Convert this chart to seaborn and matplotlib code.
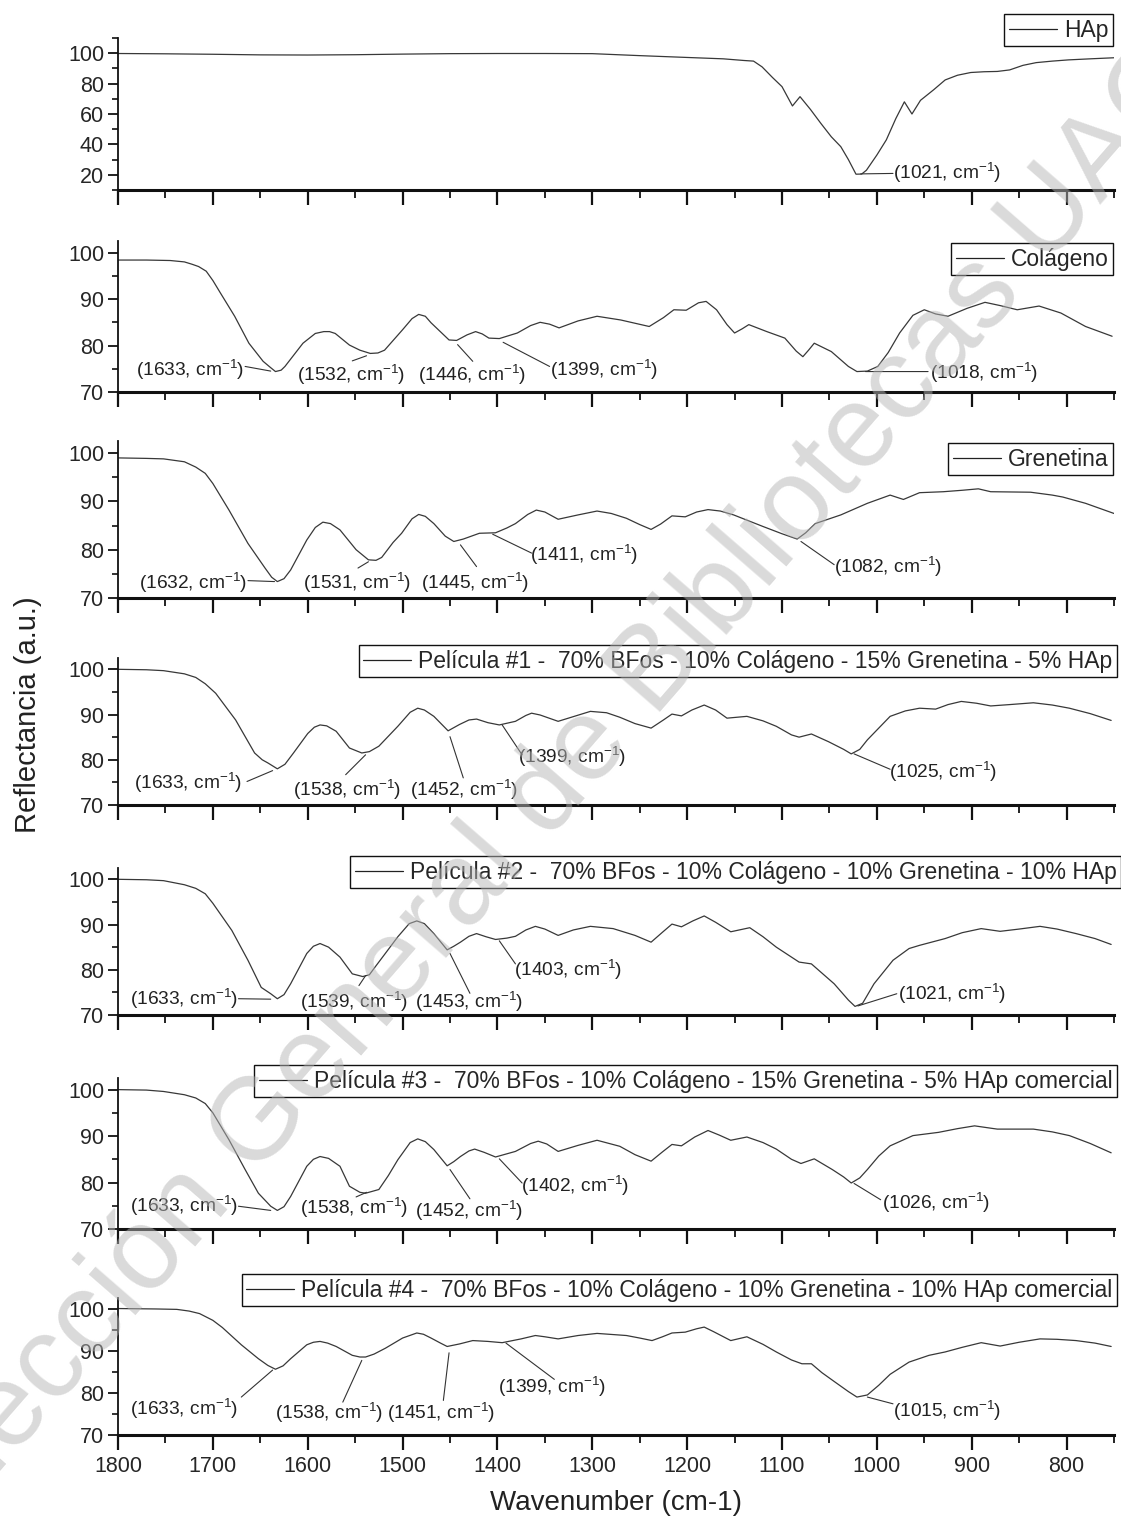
import numpy as np
import pandas as pd
import matplotlib
matplotlib.use("Agg")
import matplotlib.pyplot as plt
import seaborn as sns
from matplotlib.ticker import MultipleLocator

# ---------------- data ----------------
series_names = [
    "HAp",
    "Colágeno",
    "Grenetina",
    "Película #1 -  70% BFos - 10% Colágeno - 15% Grenetina - 5% HAp",
    "Película #2 -  70% BFos - 10% Colágeno - 10% Grenetina - 10% HAp",
    "Película #3 -  70% BFos - 10% Colágeno - 15% Grenetina - 5% HAp comercial",
    "Película #4 -  70% BFos - 10% Colágeno - 10% Grenetina - 10% HAp comercial",
]

hap_wn = [1800, 1750, 1700, 1650, 1600, 1550, 1500, 1450, 1400, 1350, 1300, 1250, 1200, 1162,
          1140, 1130, 1121, 1110, 1100, 1089, 1081, 1070, 1059, 1048, 1038, 1030, 1022, 1016,
          1011, 1000, 990, 980, 971, 963, 954, 940, 928, 915, 901, 887, 873, 860, 846, 832,
          815, 798, 775, 750]
hap_val = [99.8, 99.6, 99.3, 98.9, 98.8, 99.0, 99.4, 99.7, 99.8, 99.8, 99.7, 98.4, 97.2, 96.3,
           95.2, 94.8, 91, 84, 78, 65.3, 71.4, 63, 53.8, 45, 38.5, 30, 20.4, 20.5,
           23, 33, 43, 57, 68, 60, 69, 76, 82.4, 85.5, 87.3, 87.8, 88, 89, 92, 93.8,
           94.8, 95.6, 96.3, 97]

col_wn = [1800, 1770, 1745, 1730, 1722, 1715, 1707, 1700, 1692, 1677, 1662, 1647, 1640, 1634,
          1628, 1624, 1605, 1592, 1583, 1577, 1571, 1556, 1545, 1534, 1526, 1519, 1500, 1490,
          1483, 1476, 1470, 1451, 1443, 1432, 1423, 1416, 1409, 1398, 1379, 1365, 1355, 1345,
          1335, 1315, 1295, 1270, 1240, 1225, 1214, 1201, 1188, 1180, 1169, 1158, 1150, 1142,
          1135, 1116, 1097, 1085, 1078, 1072, 1066, 1048, 1030, 1021, 1010, 999, 988, 976,
          962, 950, 938, 925, 905, 886, 870, 852, 829, 806, 780, 752]
col_val = [98.4, 98.4, 98.3, 98.0, 97.5, 97.0, 96.0, 94.0, 91.3, 86.3, 80.5, 76.6, 75.4, 74.4,
           74.7, 75.5, 80.5, 82.6, 83.0, 83.0, 82.6, 80.1, 79.0, 78.3, 78.4, 79.0, 83.4, 85.8,
           86.7, 86.3, 84.9, 81.2, 81.1, 82.3, 83.0, 82.5, 81.6, 81.5, 82.7, 84.3, 85.0, 84.6,
           83.8, 85.3, 86.3, 85.5, 84.1, 86.0, 87.7, 87.6, 89.2, 89.5, 87.7, 84.5, 82.7, 83.6,
           84.5, 83.0, 81.6, 78.8, 77.6, 79.0, 80.5, 78.7, 75.5, 74.4, 74.5, 75.5, 78.5, 82.7,
           86.5, 87.7, 86.8, 86.3, 88.0, 89.3, 88.6, 87.7, 88.5, 87.0, 84.1, 82.0]

gre_wn = [1800, 1770, 1752, 1730, 1718, 1708, 1700, 1683, 1663, 1645, 1638, 1632, 1625, 1618,
          1601, 1592, 1584, 1576, 1566, 1549, 1536, 1528, 1522, 1510, 1501, 1490, 1483, 1476,
          1467, 1455, 1446, 1436, 1419, 1402, 1390, 1381, 1368, 1359, 1350, 1336, 1315, 1295,
          1280, 1264, 1250, 1238, 1228, 1216, 1202, 1190, 1178, 1165, 1151, 1120, 1100, 1084,
          1075, 1065, 1038, 1010, 986, 972, 955, 930, 910, 893, 880, 838, 815, 804, 780, 750]
gre_val = [99.0, 98.9, 98.8, 98.2, 97.1, 95.8, 93.7, 88.2, 81.3, 76.2, 74.3, 73.4, 74.0, 75.8,
           82.0, 84.6, 85.7, 85.4, 84.1, 80.0, 77.9, 77.8, 78.4, 81.5, 83.4, 86.4, 87.3, 86.9,
           85.4, 82.8, 81.7, 82.2, 83.4, 83.5, 84.5, 85.4, 87.3, 88.2, 87.8, 86.3, 87.2, 88.0,
           87.5, 86.5, 85.2, 84.2, 85.3, 87.0, 86.8, 87.8, 88.3, 88.0, 87.2, 84.8, 83.3, 82.2,
           83.5, 85.4, 87.2, 89.6, 91.3, 90.4, 91.8, 92.0, 92.3, 92.6, 92.0, 91.9, 91.3, 90.9,
           89.6, 87.5]

p1_wn = [1800, 1770, 1752, 1730, 1718, 1708, 1697, 1676, 1656, 1648, 1642, 1632, 1624, 1615,
         1600, 1593, 1587, 1580, 1570, 1556, 1543, 1535, 1525, 1505, 1492, 1484, 1477, 1467,
         1452, 1440, 1430, 1422, 1410, 1398, 1381, 1370, 1364, 1355, 1336, 1302, 1285, 1271,
         1255, 1238, 1225, 1216, 1206, 1195, 1182, 1170, 1158, 1137, 1120, 1106, 1090, 1082,
         1069, 1051, 1035, 1027, 1018, 1010, 998, 986, 970, 955, 938, 925, 911, 895, 880,
         860, 835, 815, 797, 775, 753]
p1_val = [100, 99.9, 99.7, 99.0, 98.2, 96.8, 94.7, 88.8, 81.5, 80.0, 79.3, 78.0, 79.0, 81.5,
          85.8, 87.2, 87.7, 87.5, 86.3, 82.6, 81.5, 81.8, 83.0, 87.4, 90.5, 91.4, 91.0, 89.6,
          86.4, 87.8, 88.8, 89.0, 88.2, 87.7, 88.5, 89.8, 90.3, 89.9, 88.5, 90.7, 90.4, 89.4,
          88.0, 87.0, 88.8, 90.1, 89.7, 91.0, 92.1, 91.0, 89.2, 89.6, 88.6, 87.4, 85.5, 85.0,
          85.7, 84.0, 82.3, 81.3, 82.3, 84.4, 87.0, 89.6, 90.8, 91.4, 91.2, 92.2, 92.9, 92.5, 91.9,
          92.2, 92.6, 92.1, 91.4, 90.2, 88.7]

p2_wn = [1800, 1770, 1752, 1730, 1718, 1708, 1700, 1680, 1663, 1649, 1639, 1632, 1625, 1618,
         1601, 1594, 1587, 1578, 1566, 1553, 1542, 1535, 1529, 1515, 1505, 1493, 1485, 1477,
         1467, 1453, 1446, 1439, 1430, 1422, 1412, 1402, 1390, 1381, 1370, 1360, 1350, 1336,
         1320, 1302, 1278, 1255, 1238, 1226, 1216, 1206, 1194, 1182, 1170, 1154, 1134, 1120,
         1106, 1082, 1069, 1045, 1030, 1023, 1015, 1003, 983, 966, 955, 928, 910, 890, 870,
         850, 828, 810, 790, 770, 753]
p2_val = [100, 99.9, 99.7, 98.8, 98.0, 96.8, 94.7, 88.7, 82.1, 76.1, 74.7, 73.6, 74.5, 76.9,
          83.6, 85.2, 85.8, 85.0, 82.8, 79.1, 78.5, 78.9, 80.6, 84.5, 87.3, 90.2, 90.8, 90.2,
          88.0, 84.4, 85.2, 86.1, 87.4, 88.0, 87.3, 86.7, 87.0, 87.4, 88.8, 89.6, 89.0, 87.6,
          88.8, 89.6, 89.1, 87.6, 86.1, 88.3, 90.1, 89.5, 90.8, 91.9, 90.5, 88.4, 89.3, 87.3,
          85.0, 81.7, 81.3, 76.9, 73.3, 71.9, 72.6, 76.9, 82.1, 84.7, 85.4, 86.9, 88.2, 89.1, 88.5,
          89.0, 89.6, 89.0, 88.0, 86.9, 85.6]

p3_wn = [1800, 1770, 1752, 1730, 1718, 1708, 1700, 1683, 1666, 1652, 1639, 1632, 1625, 1618,
         1601, 1594, 1587, 1578, 1566, 1556, 1545, 1539, 1525, 1515, 1505, 1492, 1484, 1476,
         1467, 1453, 1446, 1439, 1430, 1424, 1414, 1402, 1381, 1365, 1357, 1348, 1336, 1315,
         1295, 1271, 1255, 1238, 1226, 1216, 1206, 1192, 1178, 1166, 1154, 1137, 1120, 1106,
         1090, 1080, 1066, 1047, 1035, 1027, 1018, 1010, 998, 986, 962, 935, 915, 897, 880,
         873, 835, 815, 797, 775, 753]
p3_val = [100, 99.9, 99.6, 98.9, 98.2, 97.0, 95.0, 89.2, 82.8, 77.7, 74.9, 74.0, 74.8, 77.0,
          83.5, 85.0, 85.6, 85.2, 83.5, 79.2, 77.9, 77.7, 78.5, 81.5, 84.9, 88.6, 89.4, 88.8,
          87.1, 83.6, 84.5, 85.6, 86.8, 87.2, 86.5, 85.5, 86.7, 88.4, 88.9, 88.3, 86.7, 88.0,
          89.1, 87.8, 86.0, 84.6, 86.6, 88.2, 87.9, 89.8, 91.2, 90.2, 89.1, 89.8, 88.6, 87.2,
          85.0, 84.1, 85.1, 82.8, 81.2, 79.9, 81.0, 82.8, 85.7, 87.9, 90.1, 90.8, 91.6, 92.2, 91.7,
          91.5, 91.5, 90.9, 90.1, 88.4, 86.4]

p4_wn = [1800, 1760, 1738, 1725, 1714, 1700, 1690, 1670, 1652, 1642, 1634, 1626, 1618, 1601,
         1594, 1587, 1579, 1570, 1553, 1545, 1539, 1530, 1518, 1500, 1485, 1478, 1470, 1460,
         1453, 1440, 1426, 1410, 1395, 1375, 1360, 1350, 1336, 1315, 1295, 1264, 1250, 1237,
         1226, 1216, 1202, 1190, 1182, 1172, 1154, 1137, 1120, 1106, 1090, 1079, 1069, 1058,
         1045, 1030, 1021, 1010, 998, 986, 966, 945, 928, 910, 890, 870, 850, 828, 810, 790,
         770, 753]
p4_val = [100, 99.9, 99.8, 99.4, 98.8, 97.2, 95.5, 91.4, 88.1, 86.5, 85.6, 86.4, 88.1, 91.4,
          92.0, 92.2, 91.8, 91.0, 88.9, 88.5, 88.5, 89.2, 90.6, 93.0, 94.2, 93.9, 93.0, 91.8,
          91.0, 91.6, 92.4, 92.2, 91.9, 92.8, 93.6, 93.3, 92.8, 93.6, 94.1, 93.6, 93.0, 92.4,
          93.3, 94.2, 94.4, 95.2, 95.6, 94.5, 92.4, 93.3, 91.5, 89.7, 87.8, 86.9, 86.9, 84.8,
          82.7, 80.3, 79.0, 79.5, 81.8, 84.4, 87.3, 88.9, 89.7, 90.8, 91.9, 91.1, 92.0, 92.8, 92.7,
          92.4, 91.8, 91.0]

# annotations: (peak label, text x, text y, leader start x, start y, leader end x, end y)
hap_notes = [(1021, 926, 20.9, 983, 20.9, 1017, 20.6)]
col_notes = [(1633, 1724, 74.8, 1666, 75.5, 1639, 74.5),
             (1532, 1554, 73.7, 1553, 76.7, 1538, 77.8),
             (1446, 1427, 73.7, 1426, 76.6, 1442, 80.2),
             (1399, 1288, 74.8, 1345, 75.5, 1394, 80.7),
             (1018, 887, 74.2, 946, 74.4, 1012, 74.4)]
gre_notes = [(1632, 1721, 73.1, 1663, 73.6, 1635, 73.4),
             (1531, 1548, 73.1, 1547, 76.2, 1536, 77.5),
             (1445, 1423, 73.1, 1422, 76.5, 1439, 81.0),
             (1411, 1309, 78.9, 1364, 79.3, 1405, 83.2),
             (1082, 988, 76.5, 1045, 76.9, 1080, 81.7)]
p1_notes = [(1633, 1726, 74.9, 1664, 75.2, 1637, 77.6),
            (1538, 1558, 73.4, 1560, 76.7, 1539, 81.1),
            (1452, 1435, 73.4, 1436, 76.0, 1450, 85.1),
            (1399, 1321, 80.7, 1374, 81.1, 1395, 87.7),
            (1025, 930, 77.4, 986, 77.9, 1024, 81.3)]
p2_notes = [(1633, 1730, 73.6, 1673, 73.6, 1639, 73.5),
            (1539, 1551, 72.8, 1546, 76.5, 1539, 78.7),
            (1453, 1430, 72.8, 1429, 74.8, 1450, 83.6),
            (1403, 1325, 79.9, 1381, 81.3, 1398, 86.4),
            (1021, 921, 74.7, 979, 74.7, 1020, 72.0)]
p3_notes = [(1633, 1730, 74.9, 1673, 74.9, 1639, 74.0),
            (1538, 1551, 74.5, 1549, 76.9, 1538, 77.9),
            (1452, 1430, 73.8, 1429, 76.5, 1450, 82.8),
            (1402, 1318, 79.3, 1374, 79.9, 1398, 85.1),
            (1026, 938, 75.6, 996, 76.3, 1024, 79.8)]
p4_notes = [(1633, 1730, 76.2, 1670, 79.0, 1637, 85.4),
            (1538, 1577, 75.3, 1563, 77.8, 1543, 87.7),
            (1451, 1459, 75.3, 1457, 78.2, 1451, 89.5),
            (1399, 1342, 81.5, 1340, 83.2, 1391, 91.8),
            (1015, 926, 75.8, 983, 77.4, 1010, 79.0)]

x_ticks = [1800, 1700, 1600, 1500, 1400, 1300, 1200, 1100, 1000, 900, 800]

# ---------------- style ----------------
sns.set_theme(style="ticks")
plt.rcParams["font.family"] = ["Liberation Sans", "DejaVu Sans"]
plt.rcParams["mathtext.fontset"] = "custom"
plt.rcParams["mathtext.rm"] = "Liberation Sans"
plt.rcParams["mathtext.it"] = "Liberation Sans:italic"
plt.rcParams["mathtext.bf"] = "Liberation Sans:bold"

W, H = 1121, 1520
fig = plt.figure(figsize=(W / 100, H / 100), dpi=100)
fig.patch.set_facecolor("white")

left_px, right_px = 118, 1114
panel_px = [(38, 190), (241, 392), (441, 598), (658, 805), (868, 1015), (1078, 1229), (1298, 1435)]
legend_px = [(1113, 14), (1113, 243), (1113, 443), (1117, 645), (1121, 856), (1117, 1065), (1117, 1274)]
ylims = [(10, 110)] + [(70, 102.5)] * 6

all_wn = [hap_wn, col_wn, gre_wn, p1_wn, p2_wn, p3_wn, p4_wn]
all_val = [hap_val, col_val, gre_val, p1_val, p2_val, p3_val, p4_val]
all_notes = [hap_notes, col_notes, gre_notes, p1_notes, p2_notes, p3_notes, p4_notes]

line_color = "#383838"

for i in range(7):
    top, bot = panel_px[i]
    ax = fig.add_axes([left_px / W, 1 - bot / H, (right_px - left_px) / W, (bot - top) / H])
    ax.set_facecolor("none")
    df = pd.DataFrame({"Wavenumber": all_wn[i], "Reflectancia": all_val[i]})
    sns.lineplot(data=df, x="Wavenumber", y="Reflectancia", ax=ax, color=line_color,
                 lw=0.9, label=series_names[i], sort=False)
    for ln in ax.get_lines():
        ln.set_solid_joinstyle("round")
    ax.set_xlim(1800, 750)
    ax.set_ylim(*ylims[i])
    ax.set_xlabel("")
    ax.set_ylabel("")
    for s in ("top", "right"):
        ax.spines[s].set_visible(False)
    ax.spines["bottom"].set_linewidth(2.2)
    ax.spines["left"].set_linewidth(1.3)
    ax.spines["bottom"].set_color("#111111")
    ax.spines["left"].set_color("#111111")
    ax.set_xticks(x_ticks)
    ax.xaxis.set_minor_locator(MultipleLocator(50))
    if i == 0:
        ax.set_yticks([20, 40, 60, 80, 100])
        ax.yaxis.set_minor_locator(MultipleLocator(10))
    else:
        ax.set_yticks([70, 80, 90, 100])
        ax.yaxis.set_minor_locator(MultipleLocator(5))
    ax.tick_params(axis="x", which="major", direction="out", length=11, width=1.6,
                   color="#111111", labelsize=15.5, pad=4)
    ax.tick_params(axis="x", which="minor", direction="out", length=6, width=1.3, color="#111111")
    ax.tick_params(axis="y", which="major", direction="out", length=7, width=1.3,
                   color="#111111", labelsize=15.5, pad=3)
    ax.tick_params(axis="y", which="minor", direction="out", length=4, width=1.2, color="#111111")
    if i < 6:
        ax.tick_params(axis="x", labelbottom=False)

    for (pk, tx, ty, sx, sy, ex, ey) in all_notes[i]:
        ax.text(tx, ty, f"({pk}, cm$^{{-1}}$)", ha="center", va="center", fontsize=13.8,
                color="#222222")
        ax.annotate("", xy=(ex, ey), xytext=(sx, sy),
                    arrowprops=dict(arrowstyle="-", lw=0.8, color="#333333",
                                    shrinkA=0, shrinkB=0))

    rx, ty_ = legend_px[i]
    leg = ax.legend(loc="upper right", bbox_to_anchor=(rx / W, 1 - ty_ / H),
                    bbox_transform=fig.transFigure, frameon=True, fancybox=False,
                    edgecolor="#111111", framealpha=1, fontsize=16.5, handlelength=2.1,
                    handletextpad=0.3, borderpad=0.2, borderaxespad=0)
    leg.get_frame().set_linewidth(1.0)
    for ln in leg.get_lines():
        ln.set_linewidth(0.9)
        ln.set_color("#222222")

fig.text(28 / W, 1 - 715 / H, "Reflectancia (a.u.)", rotation=90, ha="center", va="center",
         fontsize=21, color="#222222")
fig.text(616 / W, 1 - 1503 / H, "Wavenumber (cm-1)", ha="center", va="center",
         fontsize=20, color="#222222")

# watermark
fig.text(531 / W, 1 - 814 / H, "Colección General de Bibliotecas UAQ", rotation=49,
         ha="center", va="center", fontsize=84, color="#b5b5b5", alpha=0.5, zorder=10)

fig.savefig("out.png", dpi=100, facecolor="white")
